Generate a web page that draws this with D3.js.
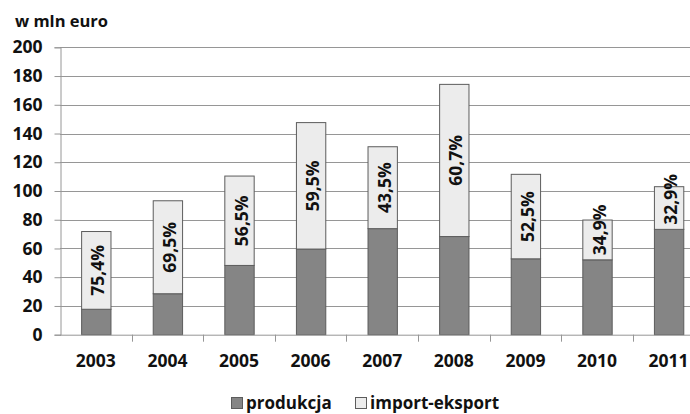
<!DOCTYPE html>
<html>
<head>
<meta charset="utf-8">
<script src="https://cdn.jsdelivr.net/npm/d3@7"></script>
<style>
  html, body { margin: 0; padding: 0; background: #fff; }
  svg { display: block; }
  text { font-family: "Open Sans", "Noto Sans", sans-serif; font-weight: bold; fill: #111; }
</style>
</head>
<body>
<svg id="chart" width="690" height="414"></svg>
<script>
// Years shown on the category axis
const years = ["2003", "2004", "2005", "2006", "2007", "2008", "2009", "2010", "2011"];
// Production, mln euro
const produkcja = [17.7, 28.5, 48.2, 59.6, 73.8, 68.3, 52.8, 52.1, 73.3];
// Import-export, mln euro (stacked on top of production)
const importEksport = [54.1, 64.7, 62.2, 88.0, 57.0, 105.9, 58.8, 27.7, 29.7];
// Share of import-export printed inside the upper segment
const shareLabels = ["75,4%", "69,5%", "56,5%", "59,5%", "43,5%", "60,7%", "52,5%", "34,9%", "32,9%"];
// Value axis ticks
const yTicks = [0, 20, 40, 60, 80, 100, 120, 140, 160, 180, 200];

const svg = d3.select("#chart");
const plotLeft = 60, plotTop = 47.3, plotBottom = 334.7, band = 71.6;
const colDark = "#858585", colLight = "#ececec", colEdge = "#5c5c5c", colGrid = "#969696";

const x = d3.scaleBand().domain(years).range([plotLeft, plotLeft + band * years.length]).padding(0);
const y = d3.scaleLinear().domain([0, 200]).range([plotBottom, plotTop]);

// Gridlines
svg.append("g").selectAll("line").data(yTicks.filter(d => d > 0)).join("line")
  .attr("x1", plotLeft).attr("x2", 690)
  .attr("y1", d => Math.round(y(d)) + 0.5).attr("y2", d => Math.round(y(d)) + 0.5)
  .attr("stroke", colGrid).attr("stroke-width", 1.2);

// Value axis
const yAxis = svg.append("g")
  .attr("transform", `translate(${plotLeft + 0.5},0)`)
  .call(d3.axisLeft(y).tickValues(yTicks).tickSize(6).tickPadding(12));
yAxis.select(".domain").attr("stroke", colGrid);
yAxis.selectAll(".tick line").attr("stroke", colGrid);
yAxis.selectAll(".tick text").style("font-size", "17.5px").attr("fill", "#111")
  .style("font-family", "'Open Sans', sans-serif").style("font-weight", "bold");

// Bars
const data = years.map((yr, i) => ({ yr, p: produkcja[i], ie: importEksport[i], lab: shareLabels[i] }));
const bw = band * 0.41;
const bx = d => x(d.yr) + (x.bandwidth() - bw) / 2;

svg.append("g").selectAll("rect").data(data).join("rect")
  .attr("x", d => bx(d) + 0.5).attr("width", bw)
  .attr("y", d => y(d.p)).attr("height", d => y(0) - y(d.p))
  .attr("fill", colDark).attr("stroke", colEdge).attr("stroke-width", 1);

svg.append("g").selectAll("rect").data(data).join("rect")
  .attr("x", d => bx(d) + 0.5).attr("width", bw)
  .attr("y", d => y(d.p + d.ie)).attr("height", d => y(d.p) - y(d.p + d.ie))
  .attr("fill", colLight).attr("stroke", colEdge).attr("stroke-width", 1);

// Category axis
const xAxis = svg.append("g")
  .attr("transform", `translate(0,${plotBottom + 0.5})`)
  .call(d3.axisBottom(x).tickSize(0).tickPadding(19));
xAxis.select(".domain").attr("stroke", colGrid).attr("d", `M${plotLeft},0H690`);
xAxis.selectAll(".tick text").style("font-size", "17.5px").attr("fill", "#111")
  .style("font-family", "'Open Sans', sans-serif").style("font-weight", "bold");
svg.append("g").selectAll("line").data(years.slice(1)).join("line")
  .attr("x1", d => Math.round(x(d)) + 0.5).attr("x2", d => Math.round(x(d)) + 0.5)
  .attr("y1", plotBottom).attr("y2", plotBottom + 7)
  .attr("stroke", colGrid);

// Share labels, rotated, centred in the upper segment and kept clear of its bottom
svg.append("g").selectAll("text").data(data).join("text")
  .attr("transform", d => {
    const cx = x(d.yr) + x.bandwidth() / 2 + 1.5;
    const mid = (y(d.p) + y(d.p + d.ie)) / 2;
    const cy = Math.min(mid, y(d.p) - 30);
    return `translate(${cx},${cy}) rotate(-90)`;
  })
  .attr("text-anchor", "middle").attr("dominant-baseline", "central")
  .style("font-size", "17.5px")
  .text(d => d.lab);

// Unit title
svg.append("text").attr("x", 15).attr("y", 27).style("font-size", "16.5px").text("w mln euro");

// Legend
const legend = [
  { name: "produkcja", color: colDark, x: 231 },
  { name: "import-eksport", color: colLight, x: 355 }
];
const lg = svg.append("g");
lg.selectAll("rect").data(legend).join("rect")
  .attr("x", d => d.x + 0.5).attr("y", 397.5).attr("width", 11).attr("height", 11)
  .attr("fill", d => d.color).attr("stroke", colEdge);
lg.selectAll("text").data(legend).join("text")
  .attr("x", d => d.x + 15).attr("y", 408.5)
  .style("font-size", "17px")
  .text(d => d.name);
</script>
</body>
</html>
